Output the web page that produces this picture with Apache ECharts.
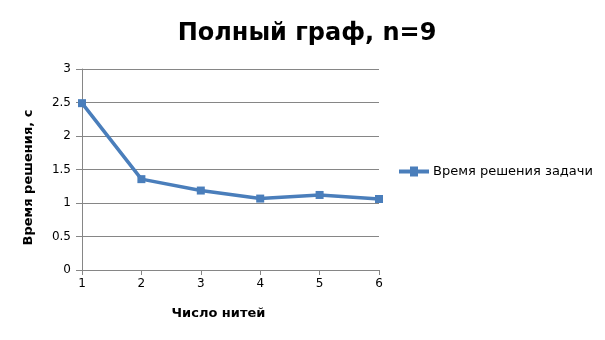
<!DOCTYPE html>
<html><head><meta charset="utf-8">
<script src="https://cdn.jsdelivr.net/npm/echarts@6/dist/echarts.min.js"></script>
<style>html,body{margin:0;padding:0;background:#fff}#c{width:605px;height:340px}</style>
</head><body><div id="c"></div>
<script>
var categories = ['1','2','3','4','5','6'];
var values = [2.49, 1.356, 1.186, 1.066, 1.12, 1.06];
var seriesName = 'Время решения задачи';
var chart = echarts.init(document.getElementById('c'));
var font = '"DejaVu Sans"';
chart.setOption({
  animation: false,
  title: {text: 'Полный граф, n=9', left: 302, top: 17, textAlign: 'center',
    textStyle: {fontFamily: font, fontSize: 24, fontWeight: 'bold', color: '#000'}},
  grid: {left: 82, right: 226, top: 69, bottom: 70},
  legend: {left: 399, top: 165, padding: 0, itemWidth: 30, itemHeight: 10, itemGap: 4,
    icon: 'path://M0,3 L11,3 L11,0 L19,0 L19,3 L30,3 L30,7 L19,7 L19,10 L11,10 L11,7 L0,7 Z',
    textStyle: {fontFamily: font, fontSize: 13, color: '#000', padding: [0, 0, 0, -1]}},
  xAxis: {type: 'category', data: categories, boundaryGap: false,
    name: 'Число нитей', nameLocation: 'middle', nameGap: 37,
    nameTextStyle: {fontFamily: font, fontSize: 13, fontWeight: 'bold', color: '#000', padding: [0, 24, 0, 0]},
    axisLine: {lineStyle: {color: '#868686'}},
    axisTick: {show: true, length: 5, lineStyle: {color: '#868686'}},
    axisLabel: {fontFamily: font, fontSize: 12, color: '#000', margin: 8},
    splitLine: {show: false}},
  yAxis: {type: 'value', min: 0, max: 3, interval: 0.5,
    name: 'Время решения, с', nameLocation: 'middle', nameGap: 47,
    nameTextStyle: {fontFamily: font, fontSize: 13, fontWeight: 'bold', color: '#000', padding: [0, 16, 0, 0]},
    axisLine: {show: true, lineStyle: {color: '#868686'}},
    axisTick: {show: true, length: 6, lineStyle: {color: '#868686'}},
    axisLabel: {fontFamily: font, fontSize: 12, color: '#000', margin: 11},
    splitLine: {lineStyle: {color: '#868686', width: 1}}},
  series: [{name: seriesName, type: 'line', data: values,
    symbol: 'rect', symbolSize: 8, showAllSymbol: true,
    lineStyle: {color: '#4a7ebb', width: 3.5},
    itemStyle: {color: '#4a7ebb'}}]
});
</script></body></html>
